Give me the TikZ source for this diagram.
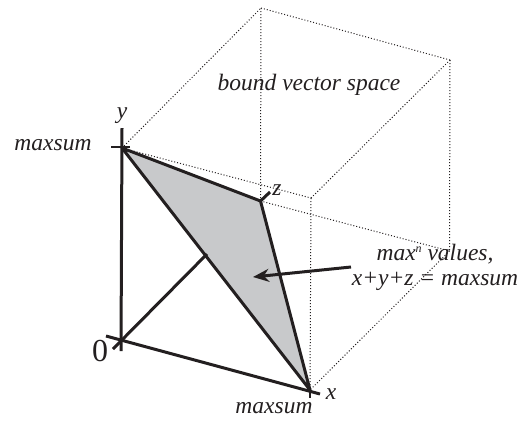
\documentclass[tikz,border=0pt]{standalone}
\usepackage{fontspec}
\setmainfont{Liberation Serif}
\definecolor{planegray}{RGB}{200,201,203}
\definecolor{inkblack}{RGB}{35,31,32}
\usetikzlibrary{arrows.meta}
\begin{document}
\begin{tikzpicture}[x=1pt,y=-1pt,
    every node/.style={inner sep=0pt,text=inkblack,font=\fontsize{23.5}{25}\selectfont\itshape},
    axis/.style={draw=inkblack,line width=3pt},
    edge/.style={draw=inkblack,line width=1pt,dotted},
    tick/.style={draw=inkblack,line width=1.1pt}]
  \useasboundingbox (0,0) rectangle (521,424);

  % Vertices of the cube
  \coordinate (o) at (121,340.5);
  \coordinate (vx) at (310,390);
  \coordinate (vy) at (122,148);
  \coordinate (vz) at (260.5,201);
  \coordinate (xy) at (311,198);
  \coordinate (xz) at (449.5,251);
  \coordinate (yz) at (261,8);
  \coordinate (xyz) at (450,60);

  % Axis ends
  \coordinate (ytop) at (122,128);
  \coordinate (ybot) at (121,351);
  \coordinate (xbeg) at (106,336);
  \coordinate (xend) at (320,394);
  \coordinate (zbeg) at (113,349);
  \coordinate (zmid) at (207,254);
  \coordinate (zend) at (270,192);
  \coordinate (ytickl) at (111,147);
  \coordinate (ytickr) at (130,147);
  \coordinate (xtick) at (310,398);

  % Dotted edges of the cube
  \foreach \from/\to in {vy/yz, vy/xy, yz/xyz, yz/vz, xy/xyz, xy/vx, vz/xz, xyz/xz, xz/vx}
    \draw[edge] (\from) -- (\to);

  % Plane
  \fill[planegray] (vy) -- (vz) -- (vx) -- cycle;

  % Axes
  \foreach \from/\to in {ytop/ybot, xbeg/xend, zbeg/zmid, vz/zend}
    \draw[axis] (\from) -- (\to);
  \draw[axis,line join=round] (vy) -- (vz) -- (vx) -- cycle;

  % Ticks
  \draw[tick] (ytickl) -- (ytickr);
  \draw[tick] (vx) -- (xtick);

  % Labels
  \node (maxy) at (53,145) {maxsum};
  \node (laby) at (122,116) {y};
  \node (labz) at (277,190) {z};
  \node (labx) at (331,394) {x};
  \node (zero) at (100,351) {\fontsize{32}{32}\selectfont\upshape 0};
  \node (maxx) at (274,408) {maxsum};
  \node (space) at (309,85) {bound vector space};
  \node[align=center] (plane) at (435,267) {max\raisebox{8pt}{\fontsize{12}{12}\selectfont n} values,\\x+y+z = maxsum};
  \coordinate (tail) at (351,267);
  \coordinate (head) at (253,277);

  % Arrow to the plane
  \draw[draw=inkblack,line width=3pt,-{Stealth[length=16pt,width=13pt]}] (tail) -- (head);
\end{tikzpicture}
\end{document}
